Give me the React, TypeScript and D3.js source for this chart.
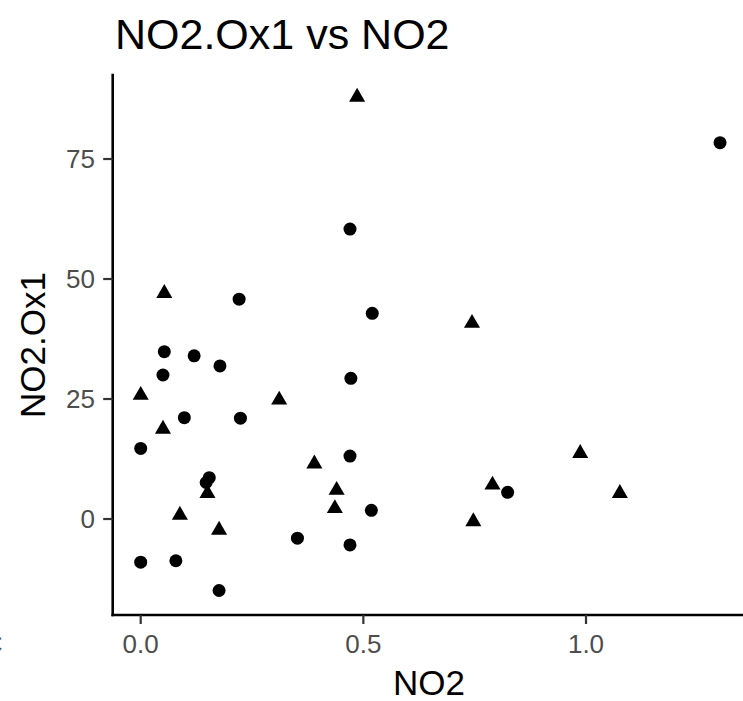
import React from "react";
import * as d3 from "d3";

// Data (NO2, NO2.Ox1)
const circleX = [1.301, 0.47, 0.221, 0.52, 0.053, 0.12, 0.178, 0.05, 0.472, 0.098, 0.224, 0.0, 0.47, 0.824, 0.518, 0.352, 0.47, 0.0, 0.079, 0.176, 0.154, 0.147];
const circleY = [78.4, 60.4, 45.8, 42.85, 34.85, 34.0, 31.9, 30.0, 29.3, 21.1, 21.0, 14.7, 13.1, 5.55, 1.8, -4.0, -5.4, -9.0, -8.7, -14.9, 8.6, 7.6];
const triX = [0.486, 0.053, 0.744, 0.0, 0.311, 0.05, 0.39, 0.987, 0.44, 0.79, 1.076, 0.436, 0.088, 0.176, 0.747, 0.15];
const triY = [87.9, 47.0, 40.8, 25.8, 24.8, 18.75, 11.5, 13.7, 6.0, 7.1, 5.35, 2.2, 0.8, -2.3, -0.55, 5.35];
const xTicks = [0, 0.5, 1.0];
const xTickLabels = ["0.0", "0.5", "1.0"];
const yTicks = [0, 25, 50, 75];
const yTickLabels = ["0", "25", "50", "75"];

const W = 743;
const H = 701;
const panelLeft = 112.7;
const panelTop = 75;
const panelBottom = 615;
const panelRight = 760;

const FONT = "'Liberation Sans', Arial, Helvetica, sans-serif";

export default function App() {
  const x = d3.scaleLinear().domain([0, 1]).range([140.7, 586]);
  const y = d3.scaleLinear().domain([0, 75]).range([519, 159]);
  const circlePath = d3.symbol().type(d3.symbolCircle).size(Math.PI * 6.5 * 6.5)() as string;
  const triPath = d3.symbol().type(d3.symbolTriangle).size(112)() as string;
  const circles = circleX.map((v, i) => ({ x: v, y: circleY[i] }));
  const tris = triX.map((v, i) => ({ x: v, y: triY[i] }));

  return (
    <svg width={W} height={H} style={{ position: "absolute", left: 0, top: 0, background: "#fff" }} fontFamily={FONT}>
      <rect x={0} y={0} width={W} height={H} fill="#fff" />
      <text x={115} y={49} fontSize={43} fill="#000">NO2.Ox1 vs NO2</text>
      {/* clipped fragment from neighbouring panel */}
      <text x={2.5} y={653} fontSize={26} fill="#4D4D4D" textAnchor="end">C</text>

      {/* points */}
      {circles.map((d, i) => (
        <path key={"c" + i} d={circlePath} transform={`translate(${x(d.x)},${y(d.y)})`} fill="#000" />
      ))}
      {tris.map((d, i) => (
        <path key={"t" + i} d={triPath} transform={`translate(${x(d.x)},${y(d.y)})`} fill="#000" />
      ))}

      {/* axes */}
      <line x1={panelLeft} x2={panelLeft} y1={panelTop} y2={panelBottom} stroke="#000" strokeWidth={2.6} strokeLinecap="square" />
      <line x1={panelLeft} x2={panelRight} y1={panelBottom} y2={panelBottom} stroke="#000" strokeWidth={2.6} strokeLinecap="square" />

      {yTicks.map((t, i) => (
        <g key={"yt" + i}>
          <line x1={panelLeft - 9.5} x2={panelLeft} y1={y(t)} y2={y(t)} stroke="#333" strokeWidth={2.2} />
          <text x={95} y={y(t)} dy="0.36em" fontSize={26} fill="#4D4D4D" textAnchor="end">{yTickLabels[i]}</text>
        </g>
      ))}
      {xTicks.map((t, i) => (
        <g key={"xt" + i}>
          <line x1={x(t)} x2={x(t)} y1={panelBottom} y2={panelBottom + 9} stroke="#333" strokeWidth={2.2} />
          <text x={x(t)} y={653} fontSize={26} fill="#4D4D4D" textAnchor="middle">{xTickLabels[i]}</text>
        </g>
      ))}

      <text x={429} y={695} fontSize={35} fill="#000" textAnchor="middle">NO2</text>
      <text transform={`translate(45,${(panelTop + panelBottom) / 2}) rotate(-90)`} fontSize={35} fill="#000" textAnchor="middle">NO2.Ox1</text>
    </svg>
  );
}
